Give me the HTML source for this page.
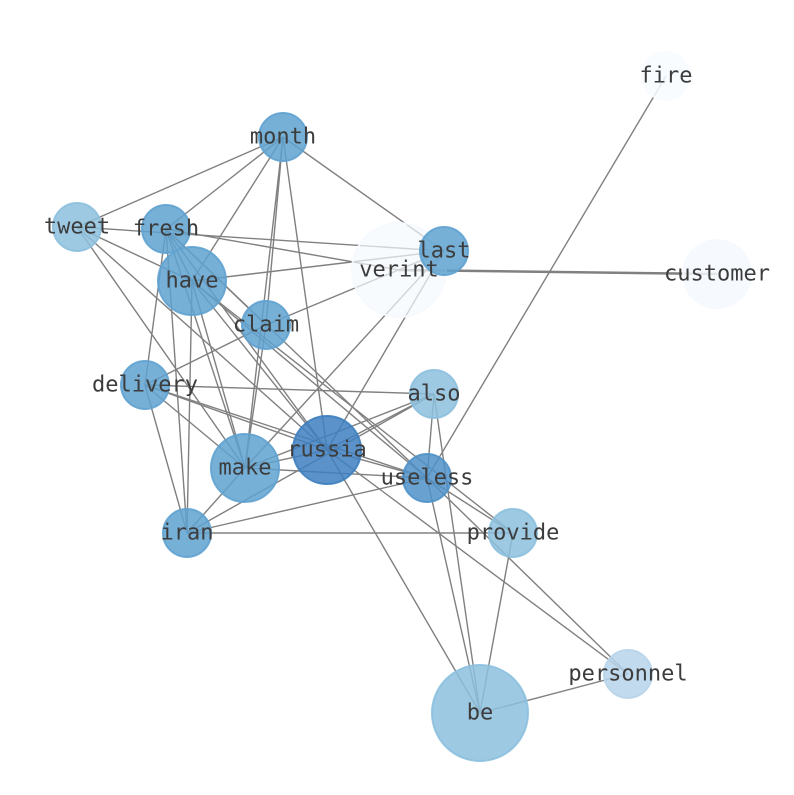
<!DOCTYPE html>
<html><head><meta charset="utf-8"><style>html,body{margin:0;padding:0;background:#fff}</style></head>
<body>
<svg width="794" height="790" xmlns="http://www.w3.org/2000/svg">
<g stroke="#808080" stroke-width="1.4" fill="none">
<line x1="283" y1="137" x2="77" y2="227"/>
<line x1="283" y1="137" x2="166" y2="229"/>
<line x1="283" y1="137" x2="192" y2="281"/>
<line x1="283" y1="137" x2="266" y2="325"/>
<line x1="283" y1="137" x2="245" y2="468"/>
<line x1="283" y1="137" x2="327" y2="450"/>
<line x1="283" y1="137" x2="444" y2="251"/>
<line x1="77" y1="227" x2="444" y2="251"/>
<line x1="77" y1="227" x2="192" y2="281"/>
<line x1="77" y1="227" x2="327" y2="450"/>
<line x1="77" y1="227" x2="245" y2="468"/>
<line x1="166" y1="229" x2="399" y2="270"/>
<line x1="166" y1="229" x2="192" y2="281"/>
<line x1="166" y1="229" x2="266" y2="325"/>
<line x1="166" y1="229" x2="145" y2="385"/>
<line x1="166" y1="229" x2="187" y2="533"/>
<line x1="166" y1="229" x2="327" y2="450"/>
<line x1="166" y1="229" x2="427" y2="478"/>
<line x1="166" y1="229" x2="245" y2="468"/>
<line x1="192" y1="281" x2="444" y2="251"/>
<line x1="192" y1="281" x2="245" y2="468"/>
<line x1="192" y1="281" x2="187" y2="533"/>
<line x1="192" y1="281" x2="327" y2="450"/>
<line x1="192" y1="281" x2="513" y2="533"/>
<line x1="192" y1="281" x2="427" y2="478"/>
<line x1="399" y1="270" x2="717" y2="274" stroke-width="2.5"/>
<line x1="444" y1="251" x2="266" y2="325"/>
<line x1="444" y1="251" x2="327" y2="450"/>
<line x1="444" y1="251" x2="245" y2="468"/>
<line x1="666" y1="76" x2="427" y2="478"/>
<line x1="145" y1="385" x2="434" y2="394"/>
<line x1="145" y1="385" x2="327" y2="450"/>
<line x1="145" y1="385" x2="427" y2="478"/>
<line x1="145" y1="385" x2="245" y2="468"/>
<line x1="145" y1="385" x2="187" y2="533"/>
<line x1="145" y1="385" x2="266" y2="325"/>
<line x1="434" y1="394" x2="327" y2="450"/>
<line x1="434" y1="394" x2="187" y2="533"/>
<line x1="434" y1="394" x2="245" y2="468"/>
<line x1="434" y1="394" x2="480" y2="713"/>
<line x1="434" y1="394" x2="427" y2="478"/>
<line x1="327" y1="450" x2="480" y2="713"/>
<line x1="327" y1="450" x2="628" y2="674"/>
<line x1="327" y1="450" x2="245" y2="468"/>
<line x1="327" y1="450" x2="427" y2="478"/>
<line x1="245" y1="468" x2="187" y2="533"/>
<line x1="245" y1="468" x2="427" y2="478"/>
<line x1="266" y1="325" x2="245" y2="468"/>
<line x1="187" y1="533" x2="513" y2="533"/>
<line x1="187" y1="533" x2="427" y2="478"/>
<line x1="427" y1="478" x2="480" y2="713"/>
<line x1="427" y1="478" x2="628" y2="674"/>
<line x1="427" y1="478" x2="513" y2="533"/>
<line x1="513" y1="533" x2="480" y2="713"/>
<line x1="480" y1="713" x2="628" y2="674"/>
</g>
<g stroke-width="2" fill-opacity="0.85" stroke-opacity="0.9">
<circle cx="666" cy="76" r="24" fill="#f7fbff" stroke="#f7fbff"/>
<circle cx="399" cy="270" r="47" fill="#f5f9fe" stroke="#f5f9fe" fill-opacity="0.7"/>
<circle cx="717" cy="274" r="34" fill="#f5f9fe" stroke="#f5f9fe"/>
<circle cx="283" cy="137" r="24" fill="#5fa2d0" stroke="#5fa2d0"/>
<circle cx="77" cy="227" r="24" fill="#8cc0de" stroke="#8cc0de"/>
<circle cx="166" cy="229" r="24" fill="#5fa2d0" stroke="#5fa2d0"/>
<circle cx="444" cy="251" r="24" fill="#5fa2d0" stroke="#5fa2d0"/>
<circle cx="192" cy="281" r="34" fill="#5fa2d0" stroke="#5fa2d0"/>
<circle cx="266" cy="325" r="24" fill="#5fa2d0" stroke="#5fa2d0"/>
<circle cx="145" cy="385" r="24" fill="#5fa2d0" stroke="#5fa2d0"/>
<circle cx="434" cy="394" r="24" fill="#8cc0de" stroke="#8cc0de"/>
<circle cx="245" cy="468" r="34" fill="#5fa2d0" stroke="#5fa2d0"/>
<circle cx="327" cy="450" r="34" fill="#3d7fbf" stroke="#3d7fbf"/>
<circle cx="427" cy="478" r="24" fill="#4f92c8" stroke="#4f92c8"/>
<circle cx="187" cy="533" r="24" fill="#5fa2d0" stroke="#5fa2d0"/>
<circle cx="513" cy="533" r="24" fill="#8cc0de" stroke="#8cc0de"/>
<circle cx="628" cy="674" r="24" fill="#b7d4ea" stroke="#b7d4ea"/>
<circle cx="480" cy="713" r="48" fill="#8cc0de" stroke="#8cc0de"/>
</g>
<g font-family="'DejaVu Sans Mono','Liberation Mono',monospace" font-size="22" fill="#3c3c3c" text-anchor="middle" dominant-baseline="central">
<text x="666" y="76">fire</text>
<text x="283" y="137">month</text>
<text x="77" y="227">tweet</text>
<text x="166" y="229">fresh</text>
<text x="399" y="270">verint</text>
<text x="444" y="251">last</text>
<text x="717" y="274">customer</text>
<text x="192" y="281">have</text>
<text x="266" y="325">claim</text>
<text x="145" y="385">delivery</text>
<text x="434" y="394">also</text>
<text x="327" y="450">russia</text>
<text x="245" y="468">make</text>
<text x="427" y="478">useless</text>
<text x="187" y="533">iran</text>
<text x="513" y="533">provide</text>
<text x="628" y="674">personnel</text>
<text x="480" y="713">be</text>
</g>
</svg>
</body></html>
